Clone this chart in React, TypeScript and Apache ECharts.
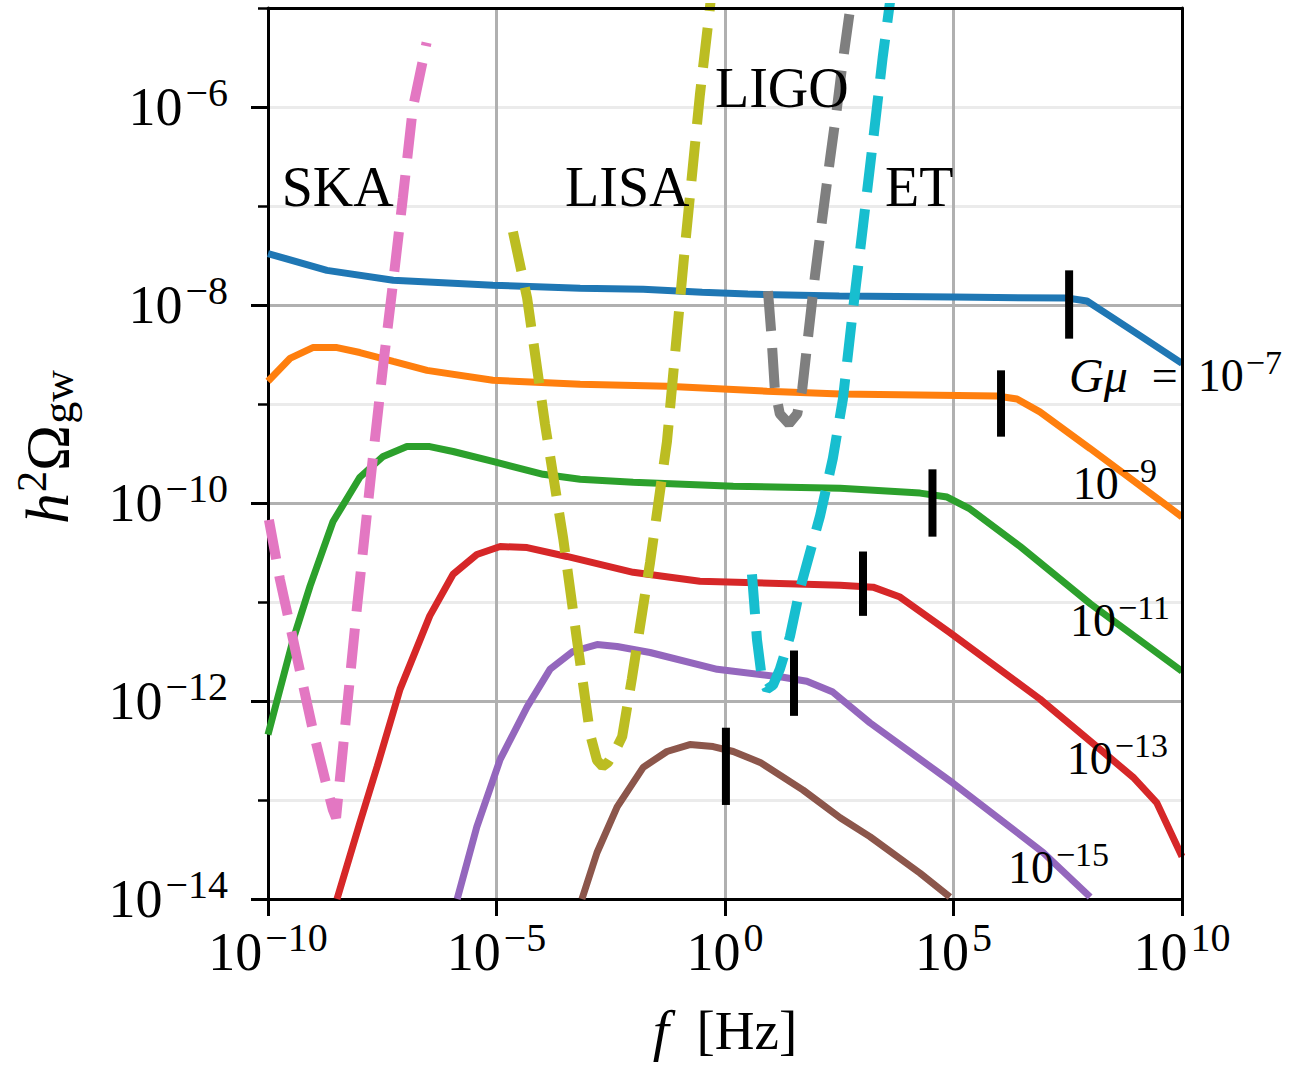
import React, { useEffect, useRef } from 'react';
import * as echarts from 'echarts';

const SERIF = "'Liberation Serif', 'DejaVu Serif', serif";
const MINUS = '\u2212';

// All coordinates are log10(f / Hz) and log10(h^2 Omega_gw).

// Cosmic-string spectra, one per string tension G mu
const spectrumGmu7 = [[-10, -7.48], [-8.71, -7.65], [-7.26, -7.75], [-5.08, -7.8], [-3.17, -7.83], [-1.79, -7.84], [-0.5, -7.87], [0.5, -7.89], [2.5, -7.91], [5.0, -7.92], [7.48, -7.93], [7.92, -7.96], [8.42, -8.11], [9.08, -8.31], [10, -8.59]];
const spectrumGmu9 = [[-10, -8.77], [-9.52, -8.54], [-9.02, -8.43], [-8.49, -8.43], [-7.99, -8.48], [-7.26, -8.57], [-6.52, -8.66], [-5.08, -8.76], [-3.17, -8.8], [-1.27, -8.82], [0.92, -8.87], [2.52, -8.9], [5.95, -8.92], [6.39, -8.95], [6.89, -9.08], [7.99, -9.45], [10, -10.14]];
const spectrumGmu11 = [[-10, -12.34], [-9.45, -11.38], [-9.08, -10.84], [-8.58, -10.19], [-7.99, -9.74], [-7.48, -9.53], [-6.96, -9.43], [-6.46, -9.43], [-5.95, -9.48], [-5.08, -9.58], [-3.98, -9.71], [-3.17, -9.76], [-2.01, -9.79], [0.18, -9.83], [2.52, -9.85], [4.27, -9.9], [4.86, -9.94], [5.36, -10.06], [6.46, -10.44], [8.0, -11.02], [10, -11.7]];
const spectrumGmu13 = [[-8.49, -14], [-7.99, -13.23], [-7.61, -12.66], [-7.11, -11.88], [-6.46, -11.14], [-5.95, -10.72], [-5.43, -10.52], [-4.92, -10.44], [-4.33, -10.45], [-3.46, -10.54], [-2.01, -10.7], [-0.55, -10.79], [2.52, -10.83], [3.24, -10.85], [3.83, -10.95], [4.92, -11.31], [6.89, -11.98], [8.21, -12.49], [8.93, -12.77], [9.45, -13.03], [10, -13.57]];
const spectrumGmu15 = [[-5.86, -14], [-5.43, -13.27], [-4.92, -12.59], [-4.33, -12.06], [-3.83, -11.68], [-3.33, -11.5], [-2.8, -11.43], [-2.36, -11.45], [-1.64, -11.51], [-0.17, -11.68], [1.27, -11.76], [1.79, -11.8], [2.36, -11.91], [3.17, -12.22], [4.99, -12.83], [6.96, -13.53], [7.99, -13.98]];
const spectrumGmu17 = [[-3.13, -14], [-2.8, -13.53], [-2.36, -13.07], [-1.79, -12.67], [-1.27, -12.51], [-0.77, -12.44], [-0.26, -12.46], [0.18, -12.51], [0.77, -12.62], [1.71, -12.9], [2.52, -13.18], [3.17, -13.37], [4.27, -13.74], [4.92, -13.98]];

const spectra = [spectrumGmu7, spectrumGmu9, spectrumGmu11, spectrumGmu13, spectrumGmu15, spectrumGmu17];
const spectrumColors = ['#1f77b4', '#ff7f0e', '#2ca02c', '#d62728', '#9467bd', '#8c564b'];

// Peak-frequency markers: frequency and vertical extent of each bar
const peakF = [7.53, 6.04, 4.54, 3.02, 1.51, 0.02];
const peakLow = [-8.34, -9.33, -10.34, -11.14, -12.15, -13.05];
const peakHigh = [-7.65, -8.66, -9.66, -10.49, -11.49, -12.27];

// Detector sensitivity curves
const skaCurve = [[-9.98, -10.17], [-9.74, -10.77], [-9.37, -11.55], [-9.02, -12.29], [-8.71, -12.87], [-8.58, -13.1], [-8.51, -13.18], [-8.44, -12.85], [-8.05, -11.04], [-7.7, -9.52], [-7.48, -8.61], [-7.26, -7.76], [-7.05, -6.92], [-6.83, -6.01], [-6.53, -5.35]];
const lisaCurve = [[-4.64, -7.26], [-4.33, -7.93], [-3.94, -9.2], [-3.54, -10.36], [-3.24, -11.38], [-2.95, -12.34], [-2.8, -12.6], [-2.68, -12.66], [-2.56, -12.62], [-2.4, -12.5], [-2.25, -12.36], [-2.04, -11.78], [-1.64, -10.6], [-1.27, -9.38], [-0.88, -7.43], [-0.55, -5.88], [-0.33, -5.0], [-0.29, -4.8]];
const ligoCurve = [[0.94, -7.86], [1.01, -8.27], [1.09, -8.85], [1.2, -9.1], [1.4, -9.2], [1.58, -9.1], [1.69, -8.85], [1.83, -8.27], [1.97, -7.7], [2.13, -7.12], [2.3, -6.52], [2.45, -6.01], [2.56, -5.6], [2.74, -5.0], [2.8, -4.8]];
const etCurve = [[0.59, -10.72], [0.7, -11.38], [0.81, -11.78], [0.92, -11.88], [1.05, -11.84], [1.2, -11.68], [1.42, -11.35], [1.64, -10.87], [2.08, -10.13], [2.36, -9.55], [2.58, -8.95], [2.8, -8.05], [3.02, -7.2], [3.25, -6.3], [3.45, -5.5], [3.65, -4.8]];

const detectorCurves = [skaCurve, lisaCurve, ligoCurve, etCurve];
const detectorNames = ['SKA', 'LISA', 'LIGO', 'ET'];
const detectorColors = ['#e377c2', '#bcbd22', '#7f7f7f', '#17becf'];
const detectorLabelF = [-9.7, -3.5, -0.22, 3.5];
const detectorLabelOmega = [-7, -7, -6, -7];

// G mu labels next to the spectra
const gmuLabelExp = [-7, -9, -11, -13, -15];
const gmuLabelF = [7.53, 7.61, 7.55, 7.48, 6.19];
const gmuLabelOmega = [-8.87, -9.96, -11.34, -12.74, -13.84];

// Axis ranges and ticks
const xMin = -10;
const xMax = 10;
const yMin = -14;
const yMax = -5;
const yMajorTicks = [-14, -12, -10, -8, -6];

const expText = (e: number) => `${e < 0 ? MINUS : ''}${Math.abs(e)}`;

const tickRich = {
  b: { fontFamily: SERIF, fontSize: 54, lineHeight: 58, color: '#000', verticalAlign: 'middle' },
  s: { fontFamily: SERIF, fontSize: 40, lineHeight: 42, padding: [0, 0, 30, 3], color: '#000', verticalAlign: 'middle' },
};

const curveLabelRich = {
  it: { fontFamily: SERIF, fontStyle: 'italic', fontSize: 48, lineHeight: 50, fill: '#000', verticalAlign: 'middle' },
  eq: { fontFamily: SERIF, fontSize: 46, lineHeight: 50, padding: [0, 20, 0, 24], fill: '#000', verticalAlign: 'middle' },
  b: { fontFamily: SERIF, fontSize: 46, lineHeight: 50, fill: '#000', verticalAlign: 'middle' },
  s: { fontFamily: SERIF, fontSize: 34, lineHeight: 36, padding: [0, 0, 26, 2], fill: '#000', verticalAlign: 'middle' },
};

const App: React.FC = () => {
  const ref = useRef<HTMLDivElement>(null);

  useEffect(() => {
    if (!ref.current) return;
    const chart = echarts.init(ref.current, undefined, { renderer: 'svg' });

    const spectrumSeries = spectra.map((d, i) => ({
      type: 'line',
      data: d,
      symbol: 'none',
      showSymbol: false,
      silent: true,
      z: 2,
      lineStyle: { color: spectrumColors[i], width: 7 },
    }));

    const detectorSeries = detectorCurves.map((d, i) => ({
      type: 'line',
      name: detectorNames[i],
      data: d,
      symbol: 'none',
      showSymbol: false,
      silent: true,
      z: 3,
      lineStyle: { color: detectorColors[i], width: 10, type: [40, 17], cap: 'butt' },
    }));

    const peakSeries = peakF.map((f, i) => ({
      type: 'line',
      data: [[f, peakLow[i]], [f, peakHigh[i]]],
      symbol: 'none',
      showSymbol: false,
      silent: true,
      z: 4,
      lineStyle: { color: '#000', width: 8, cap: 'butt' },
    }));

    // Detector names; the anchor point is the left end of the text baseline
    const detectorLabelSeries = {
      type: 'custom',
      silent: true,
      z: 6,
      clip: false,
      data: detectorNames.map((_, i) => [detectorLabelF[i], detectorLabelOmega[i]]),
      renderItem: (params: any, api: any) => {
        const p = api.coord([api.value(0), api.value(1)]);
        return {
          type: 'text',
          x: p[0],
          y: p[1] - 19,
          style: {
            text: detectorNames[params.dataIndex],
            fontFamily: SERIF,
            fontSize: 56,
            fill: '#000',
            align: 'left',
            verticalAlign: 'middle',
          },
        };
      },
    };

    // Tension labels; the first one carries "G mu ="
    const gmuLabelSeries = {
      type: 'custom',
      silent: true,
      z: 6,
      clip: false,
      data: gmuLabelExp.map((_, i) => [gmuLabelF[i], gmuLabelOmega[i]]),
      renderItem: (params: any, api: any) => {
        const i = params.dataIndex;
        const p = api.coord([api.value(0), api.value(1)]);
        const e = gmuLabelExp[i];
        return {
          type: 'text',
          x: p[0],
          y: p[1] - 15.5,
          style: {
            text: i === 0 ? `{it|G\u03bc}{eq|=}{b|10}{s|${expText(e)}}` : `{b|10}{s|${expText(e)}}`,
            fill: '#000',
            align: 'left',
            verticalAlign: 'middle',
            rich: curveLabelRich,
          },
        };
      },
    };

    const spineAxis = {
      show: true,
      axisLine: { show: true, onZero: false, lineStyle: { color: '#000', width: 3 } },
      axisTick: { show: false },
      axisLabel: { show: false },
      splitLine: { show: false },
      z: 5,
    };

    chart.setOption({
      animation: false,
      backgroundColor: '#fff',
      grid: { left: 268, top: 8, width: 914, height: 891, containLabel: false },
      graphic: [
        {
          type: 'text',
          x: 47,
          y: 447,
          rotation: Math.PI / 2,
          silent: true,
          style: {
            text: '{it|h}{sup|2}{b|\u03a9}{sub|gw}',
            align: 'center',
            verticalAlign: 'middle',
            fill: '#000',
            rich: {
              it: { fontFamily: SERIF, fontStyle: 'italic', fontSize: 62, lineHeight: 64, fill: '#000', verticalAlign: 'middle' },
              b: { fontFamily: SERIF, fontSize: 62, lineHeight: 64, fill: '#000', verticalAlign: 'middle' },
              sup: { fontFamily: SERIF, fontSize: 42, lineHeight: 44, padding: [0, 0, 30, 1], fill: '#000', verticalAlign: 'middle' },
              sub: { fontFamily: SERIF, fontSize: 44, lineHeight: 46, padding: [22, 0, 0, 1], fill: '#000', verticalAlign: 'middle' },
            },
          },
        },
      ],
      xAxis: [
        {
          type: 'value',
          min: xMin,
          max: xMax,
          interval: 5,
          position: 'bottom',
          z: 0,
          axisLine: { show: true, onZero: false, lineStyle: { color: '#000', width: 3 } },
          axisTick: { show: true, length: 17, lineStyle: { color: '#000', width: 3 } },
          axisLabel: {
            margin: 24,
            formatter: (v: number) => `{b|10}{s|${expText(v)}}`,
            rich: tickRich,
          },
          splitLine: { show: true, showMinLine: false, showMaxLine: false, lineStyle: { color: '#b0b0b0', width: 3 } },
          name: '{it|f}{b|  [Hz]}',
          nameLocation: 'middle',
          nameGap: 100,
          nameTextStyle: {
            rich: {
              it: { fontFamily: SERIF, fontStyle: 'italic', fontSize: 58, lineHeight: 62, color: '#000' },
              b: { fontFamily: SERIF, fontSize: 55, lineHeight: 62, color: '#000' },
            },
          },
        },
        { ...spineAxis, type: 'value', min: xMin, max: xMax, position: 'top' },
      ],
      yAxis: [
        {
          type: 'value',
          min: yMin,
          max: yMax,
          interval: 2,
          position: 'left',
          z: 1,
          axisLine: { show: true, onZero: false, lineStyle: { color: '#000', width: 3 } },
          axisTick: { show: true, length: 17, customValues: yMajorTicks, lineStyle: { color: '#000', width: 3 } },
          axisLabel: {
            margin: 40,
            formatter: (v: number) => (v % 2 === 0 ? `{b|10}{s|${expText(v)}}` : ''),
            rich: tickRich,
          },
          splitLine: { show: true, showMinLine: false, showMaxLine: false, lineStyle: { color: '#b0b0b0', width: 3 } },
        },
        {
          type: 'value',
          min: yMin,
          max: yMax,
          interval: 1,
          position: 'left',
          z: 0,
          axisLine: { show: false, onZero: false },
          axisTick: { show: true, length: 10, lineStyle: { color: '#000', width: 2.5 } },
          axisLabel: { show: false },
          splitLine: { show: true, showMinLine: false, showMaxLine: false, lineStyle: { color: '#ebebeb', width: 3 } },
        },
        { ...spineAxis, type: 'value', min: yMin, max: yMax, position: 'right' },
      ],
      series: [...spectrumSeries, ...detectorSeries, ...peakSeries, detectorLabelSeries, gmuLabelSeries],
    });

    return () => chart.dispose();
  }, []);

  return (
    <div
      ref={ref}
      style={{ position: 'absolute', left: 0, top: 0, width: 1297, height: 1065, background: '#fff' }}
    />
  );
};

export default App;
